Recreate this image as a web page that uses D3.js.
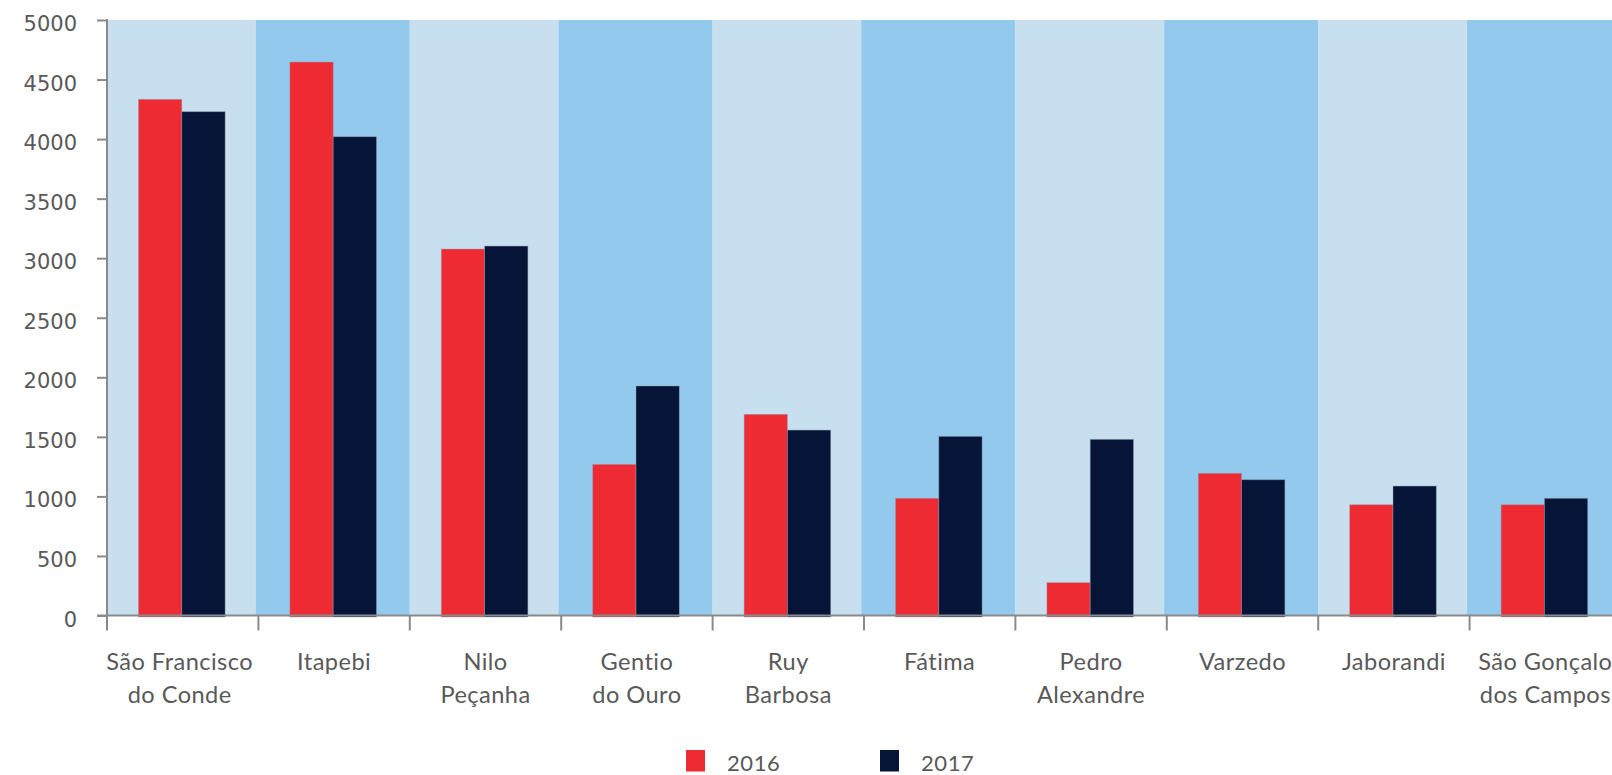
<!DOCTYPE html>
<html><head><meta charset="utf-8">
<script src="https://cdn.jsdelivr.net/npm/d3@7"></script>
<style>
html,body{margin:0;padding:0;background:#fff;overflow:hidden;}
svg{display:block;}
</style></head>
<body>
<svg id="chart" width="1612" height="775"></svg>
<script>
const categories = [["São Francisco","do Conde"],["Itapebi"],["Nilo","Peçanha"],["Gentio","do Ouro"],["Ruy","Barbosa"],["Fátima"],["Pedro","Alexandre"],["Varzedo"],["Jaborandi"],["São Gonçalo","dos Campos"]];
const seriesNames = ["2016","2017"];
const values2016 = [4334,4647,3077,1269,1689,984,276,1194,930,930];
const values2017 = [4230,4020,3102,1927,1557,1504,1479,1140,1087,984];
const yTicks = [0,500,1000,1500,2000,2500,3000,3500,4000,4500,5000];

const colors = {"2016":"#EE2A33","2017":"#061537"};
const bandColors = ["#C7DFEF","#93C9EC"];
const axisColor = "#8a8a8a";
const textColor = "#595959";

const svg = d3.select("#chart");
const plotLeft = 107, plotTop = 20, plotBottom = 615.5, step = 151.4;
const keys = categories.map((c,i)=>i);
const x = d3.scaleBand().domain(keys).range([plotLeft, plotLeft + step*categories.length]).padding(0);
const y = d3.scaleLinear().domain([0,5000]).range([plotBottom, plotTop]);
const xs = d3.scaleBand().domain(seriesNames).range([31.5, 31.5+86.6]).padding(0);

// background bands
svg.append("g").selectAll("rect").data(keys).join("rect")
  .attr("x", d => d%2 ? x(d)-2.5 : x(d))
  .attr("width", d => d%2 ? x.bandwidth()+2.5 : x.bandwidth())
  .attr("y", y(5000)).attr("height", y(0)-y(5000))
  .attr("fill", d => bandColors[d%2]);

// bars
const data = keys.map(i => ({i, vals:[{s:"2016",v:values2016[i]},{s:"2017",v:values2017[i]}]}));
const g = svg.append("g").selectAll("g").data(data).join("g")
  .attr("transform", d => `translate(${x(d.i)},0)`);
g.selectAll("rect").data(d=>d.vals).join("rect")
  .attr("x", d=>xs(d.s)).attr("width", xs.bandwidth())
  .attr("y", d=>y(d.v)).attr("height", d=>y(0)-y(d.v)+1.5)
  .attr("fill", d=>colors[d.s])
  .attr("stroke", "rgba(150,160,175,0.55)").attr("stroke-width", 0.8);

// y axis
const yAxis = svg.append("g").attr("transform", `translate(${plotLeft},0)`)
  .call(d3.axisLeft(y).tickValues(yTicks).tickSize(10).tickPadding(20).tickFormat(d3.format("d")));
yAxis.select(".domain").attr("stroke", axisColor).attr("stroke-width", 2).attr("d", `M0,${plotTop-1}V${plotBottom}`);
yAxis.selectAll(".tick line").attr("stroke", axisColor).attr("stroke-width", 2);
yAxis.selectAll(".tick text").attr("fill", textColor)
  .style("font-family","'DejaVu Sans', sans-serif").style("font-size","21px").attr("dy","0.5em");

// x axis
const xAxis = svg.append("g").attr("transform", `translate(0,${plotBottom})`);
xAxis.append("line").attr("x1", plotLeft-10).attr("x2", 1612).attr("y1",0).attr("y2",0)
  .attr("stroke", axisColor).attr("stroke-width", 2);
const tickPos = keys.map(k => x(k)).concat([x(keys[keys.length-1])+step]);
xAxis.selectAll("line.t").data(tickPos).join("line").attr("class","t")
  .attr("x1", d=>d).attr("x2", d=>d).attr("y1",0).attr("y2",15)
  .attr("stroke", axisColor).attr("stroke-width", 2);
const lbl = xAxis.selectAll("text").data(keys).join("text")
  .attr("x", d => x(d)+x.bandwidth()/2)
  .attr("y", 54.5)
  .attr("text-anchor","middle").attr("fill", textColor)
  .style("font-family","Lato, sans-serif").style("font-size","23.6px").style("letter-spacing","0.45px");
lbl.selectAll("tspan").data(d=>categories[d].map((t,j)=>({t,j,d}))).join("tspan")
  .attr("x", o => x(o.d)+x.bandwidth()/2 - (o.d===0 ? 3 : 0)).attr("dy", o => o.j ? 32.7 : 0).text(o=>o.t);

// legend
const legend = svg.append("g");
const legX = [686, 880];
seriesNames.forEach((s,i)=>{
  legend.append("rect").attr("x", legX[i]).attr("y", 750).attr("width", 19).attr("height", 21.5).attr("fill", colors[s]);
  legend.append("text").attr("x", legX[i]+41).attr("y", 770.5).text(s).attr("fill", textColor)
    .style("font-family","Lato, sans-serif").style("font-size","22px").style("letter-spacing","0.6px");
});
</script>
</body></html>
